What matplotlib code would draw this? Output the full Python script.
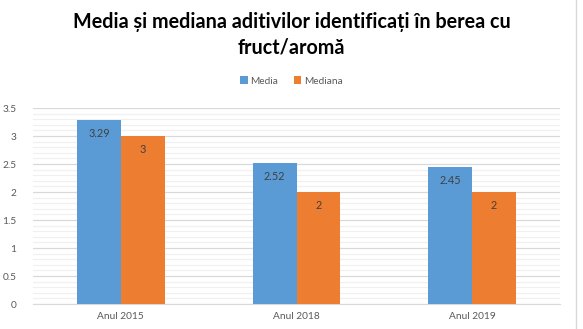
import matplotlib.pyplot as plt
import numpy as np
from matplotlib.ticker import MultipleLocator

plt.rcParams['font.family'] = ['Lato', 'DejaVu Sans']

years = ["Anul 2015", "Anul 2018", "Anul 2019"]
media = [3.29, 2.52, 2.45]
mediana = [3, 2, 2]
media_labels = ["3.29", "2.52", "2.45"]
mediana_labels = ["3", "2", "2"]

blue = "#5B9BD5"
orange = "#ED7D31"
txt = "#404040"
tick = "#595959"

fig = plt.figure(figsize=(5.83, 3.29), dpi=100)
ax = fig.add_axes([33 / 583, 25 / 329, 527 / 583, 196 / 329])

x = np.arange(len(years))
w = 0.25
b1 = ax.bar(x - w / 2, media, w, color=blue, label="Media", zorder=3)
b2 = ax.bar(x + w / 2, mediana, w, color=orange, label="Mediana", zorder=3)

# value labels sit just inside the top of each bar
for bars, labels in ((b1, media_labels), (b2, mediana_labels)):
    for r, s in zip(bars, labels):
        ax.annotate(s, (r.get_x() + r.get_width() / 2, r.get_height()),
                    xytext=(0, -10), textcoords="offset points", ha="center",
                    va="center", fontsize=7.8, color=txt)

ax.set_xlim(-0.5, 2.5)
ax.set_ylim(0, 3.5)
ax.set_xticks(x)
ax.set_xticklabels(years)
ax.yaxis.set_minor_locator(MultipleLocator(0.1))
ax.set_yticks([0, 0.5, 1, 1.5, 2, 2.5, 3, 3.5])
ax.set_yticklabels(["0", "0.5", "1", "1.5", "2", "2.5", "3", "3.5"])
ax.grid(axis="y", which="major", color="#D9D9D9", lw=0.9, zorder=0)
ax.grid(axis="y", which="minor", color="#F0F0F0", lw=0.9, zorder=0)
ax.tick_params(axis="both", which="both", length=0, labelsize=7.3, labelcolor=tick)
ax.tick_params(axis="y", pad=12)
ax.tick_params(axis="x", pad=6)
for side in ("top", "right", "left"):
    ax.spines[side].set_visible(False)
ax.spines["bottom"].set_color("#D9D9D9")

fig.text(0.5, 1 - 22 / 329, "Media și mediana aditivilor identificați în berea cu",
         ha="center", va="center", fontsize=14.2, fontweight="bold", color="black")
fig.text(0.5, 1 - 48 / 329, "fruct/aromă",
         ha="center", va="center", fontsize=14.2, fontweight="bold", color="black")

fig.legend(handles=[b1, b2], loc="center", bbox_to_anchor=(0.5, 1 - 81 / 329),
           ncol=2, frameon=False, fontsize=7.3, handlelength=0.7, handleheight=0.7,
           handletextpad=0.3, columnspacing=1.5, labelcolor=tick)

fig.add_artist(plt.Line2D([576 / 583, 576 / 583], [0, 1], color="#D9D9D9", lw=1))

fig.savefig("out.png", dpi=100, facecolor="white")
